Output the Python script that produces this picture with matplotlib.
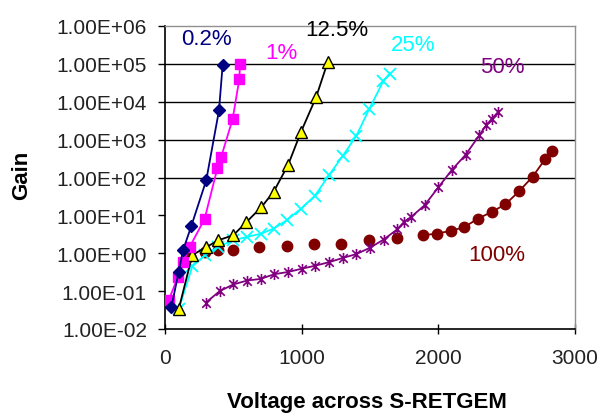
import matplotlib
matplotlib.use("Agg")
import matplotlib.pyplot as plt
from matplotlib.ticker import FuncFormatter, FixedLocator
from matplotlib.path import Path

plt.rcParams['font.family'] = ['Liberation Sans', 'DejaVu Sans']

# ---- data ----
v_02 = [46, 100, 132, 193, 302, 395, 422]
g_02 = [0.037, 0.32, 1.2, 5.3, 85, 5.9e3, 9.5e4]

v_1 = [29, 95, 132, 180, 290, 383, 410, 495, 544, 549]
g_1 = [0.06, 0.24, 0.59, 1.45, 8.1, 175, 340, 3.5e3, 4.0e4, 1.0e5]

v_125 = [100, 200, 302, 390, 500, 593, 705, 795, 902, 995, 1105, 1190]
g_125 = [0.033, 0.9, 1.45, 2.2, 3.0, 6.5, 16.5, 42, 220, 1.6e3, 1.3e4, 1.1e5]

v_25 = [100, 200, 295, 390, 500, 600, 705, 795, 890, 995, 1097, 1200, 1300,
        1400, 1495, 1597, 1645]
g_25 = [0.033, 0.45, 0.9, 1.5, 2.2, 2.7, 3.3, 4.5, 7.4, 15, 33, 115, 370,
        1.26e3, 6.5e3, 3.5e4, 5.5e4]

v_50 = [300, 400, 500, 600, 700, 800, 900, 1000, 1100, 1200, 1300, 1400, 1500,
        1600, 1700, 1750, 1800, 1900, 2000, 2100, 2200, 2300, 2350, 2390, 2440]
g_50 = [0.05, 0.10, 0.15, 0.19, 0.21, 0.28, 0.32, 0.39, 0.47, 0.58, 0.75, 0.95,
        1.4, 2.3, 4.3, 6.8, 9.0, 18.6, 55, 160, 400, 1.3e3, 2.4e3, 3.5e3, 5.5e3]

v_100a = [180, 293, 390, 500, 690, 890, 1090, 1290, 1495, 1695]
g_100a = [0.87, 1.05, 1.2, 1.2, 1.42, 1.55, 1.75, 1.75, 2.3, 2.5]
v_100b = [1890, 1990, 2090, 2190, 2290, 2390, 2490, 2590, 2690, 2780, 2835]
g_100b = [3.0, 3.3, 3.9, 4.9, 8.2, 12.3, 19.5, 43, 105, 300, 500]

ytick_vals = [1e-2, 1e-1, 1e0, 1e1, 1e2, 1e3, 1e4, 1e5, 1e6]
xtick_vals = [0, 1000, 2000, 3000]
grid_vals = [1e2, 1e3, 1e4, 1e5]

labels = ['0.2%', '1%', '12.5%', '25%', '50%', '100%']
label_pos = [(300, 4.6e5), (849, 2.0e5), (1258, 8.3e5), (1814, 3.3e5),
             (2465, 8.7e4), (2429, 0.91)]
label_col = ['#000080', '#FF00FF', '#000000', '#00FFFF', '#800080', '#800000']

# Excel-like star marker: X plus vertical bar
star = Path([(-1, -1), (1, 1), (-1, 1), (1, -1), (0, -1.3), (0, 1.3)],
            [Path.MOVETO, Path.LINETO, Path.MOVETO, Path.LINETO, Path.MOVETO, Path.LINETO])

fig = plt.figure(figsize=(6.02, 4.14), dpi=100)
ax = fig.add_axes([165/602, 1 - 330/414, (575 - 165)/602, (330 - 27)/414])
ax.set_yscale('log')
ax.set_xlim(0, 3000)
ax.set_ylim(1e-2, 1e6)

for gv in grid_vals:
    ax.axhline(gv, color='black', lw=1.0, zorder=1)

lw = 1.3
ax.plot(v_100a, g_100a, ls='none', marker='o', ms=7.5, color='#800000',
        mec='#800000', zorder=3)
ax.plot(v_100b, g_100b, ls='-', lw=lw, marker='o', ms=7.5, color='#800000',
        mec='#800000', zorder=3)
ax.plot(v_50, g_50, ls='-', lw=lw, marker=star, ms=8, mew=1.2,
        color='#800080', zorder=4)
ax.plot(v_25, g_25, ls='-', lw=lw, marker='x', ms=8, mew=1.3,
        color='#00FFFF', zorder=5)
ax.plot(v_125, g_125, ls='-', lw=lw, marker='^', ms=8, color='black',
        mfc='#FFFF00', mec='black', mew=1.0, zorder=6)
ax.plot(v_1, g_1, ls='-', lw=lw, marker='s', ms=7, color='#FF00FF',
        mec='#FF00FF', zorder=7)
ax.plot(v_02, g_02, ls='-', lw=lw, marker='D', ms=6, color='#000080',
        mec='#000080', zorder=8)

for t, (x, y), c in zip(labels, label_pos, label_col):
    ax.text(x, y, t, color=c, fontsize=16, ha='center', va='center',
            zorder=9, clip_on=False)

ax.yaxis.set_major_locator(FixedLocator(ytick_vals))
ax.yaxis.set_minor_locator(FixedLocator([]))
ax.yaxis.set_major_formatter(FuncFormatter(lambda v, p: f"{v:.2E}"))
ax.set_xticks(xtick_vals)
ax.tick_params(axis='y', direction='out', length=5, width=1, pad=8,
               labelsize=15, colors='black', labelcolor='#222222')
ax.tick_params(axis='x', direction='inout', length=7, width=1, pad=10,
               labelsize=15, labelcolor='#222222')

for s in ['top', 'right']:
    ax.spines[s].set_color('#909090')
    ax.spines[s].set_linewidth(1.0)
for s in ['left', 'bottom']:
    ax.spines[s].set_color('black')
    ax.spines[s].set_linewidth(1.2)

fig.text(22/602, 1 - 175/414, 'Gain', rotation=90, fontsize=16,
         fontweight='bold', ha='center', va='center')
fig.text(367/602, 1/414, 'Voltage across S-RETGEM', fontsize=16,
         fontweight='bold', ha='center', va='bottom')

fig.savefig('out.png', dpi=100)
